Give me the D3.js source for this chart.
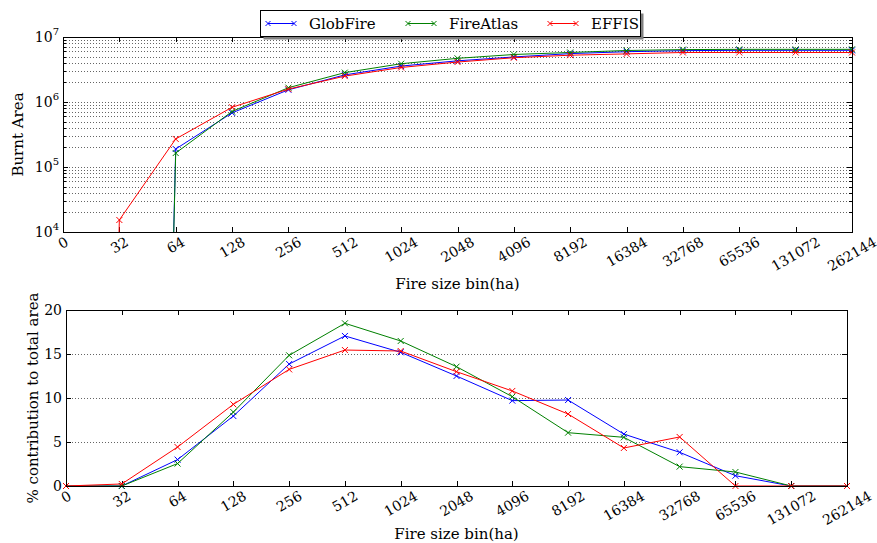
<!DOCTYPE html>
<html>
<head>
<meta charset="utf-8">
<script src="https://cdn.jsdelivr.net/npm/d3@7"></script>
<style>
  body { margin: 0; background: #fff; }
  svg { display: block; font-family: "DejaVu Serif", serif; }
</style>
</head>
<body>
<div class="container"></div>
<script>
// fire size bins (ha)
const bins = ['0', '32', '64', '128', '256', '512', '1024', '2048', '4096', '8192', '16384', '32768', '65536', '131072', '262144'];

// cumulative burnt area (top panel)
const globFireArea = [0, 0, 1.89e5, 6.8e5, 1.54e6, 2.61e6, 3.57e6, 4.3e6, 4.93e6, 5.55e6, 5.94e6, 6.17e6, 6.24e6, 6.24e6, 6.24e6];
const fireAtlasArea = [0, 0, 1.64e5, 7.15e5, 1.66e6, 2.83e6, 3.88e6, 4.7e6, 5.38e6, 5.78e6, 6.2e6, 6.4e6, 6.46e6, 6.46e6, 6.46e6];
const effisArea = [0, 1.53e4, 2.7e5, 8.3e5, 1.58e6, 2.5e6, 3.4e6, 4.12e6, 4.8e6, 5.25e6, 5.5e6, 5.78e6, 5.78e6, 5.78e6, 5.78e6];

// % contribution to total area (bottom panel)
const globFirePct = [0, 0, 3.0, 7.95, 13.86, 17.05, 15.19, 12.5, 9.7, 9.77, 5.9, 3.83, 1.17, 0, 0];
const fireAtlasPct = [0, 0, 2.55, 8.4, 14.85, 18.49, 16.48, 13.56, 10.15, 6.06, 5.53, 2.2, 1.59, 0, 0];
const effisPct = [0, 0.23, 4.43, 9.28, 13.25, 15.45, 15.34, 12.99, 10.8, 8.18, 4.32, 5.57, 0, 0, 0];

const seriesNames = ['GlobFire', 'FireAtlas', 'EFFIS'];
const seriesColors = ['#0000ff', '#008000', '#ff0000'];

const areaTicks = [1e4, 1e5, 1e6, 1e7];
const pctTicks = [0, 5, 10, 15, 20];

const W = 877, H = 543;
const fontSize = 14;
const titleSize = 15;

const svg = d3.select('.container')
              .append('svg')
              .attr('width', W)
              .attr('height', H);

// panel boxes
const topBox = {left: 63, right: 852, top: 37, bottom: 232};
const botBox = {left: 66, right: 847, top: 310, bottom: 486};

const xTop = d3.scalePoint().domain(bins).range([topBox.left, topBox.right]);
const xBot = d3.scalePoint().domain(bins).range([botBox.left, botBox.right]);
const yTop = d3.scaleLog().domain([1e4, 1e7]).range([topBox.bottom, topBox.top]);
const yBot = d3.scaleLinear().domain([0, 20]).range([botBox.bottom, botBox.top]);

const defs = svg.append('defs');
[['clipTop', topBox], ['clipBot', botBox]].forEach(([id, b]) => {
  defs.append('clipPath').attr('id', id)
      .append('rect')
      .attr('x', b.left).attr('y', b.top)
      .attr('width', b.right - b.left).attr('height', b.bottom - b.top);
});

// minor values for the log panel (2..9 x 10^k)
const minorVals = [];
for (let e = 4; e < 7; e++) {
  for (let m = 2; m <= 9; m++) minorVals.push(m * Math.pow(10, e));
}

function hGrid(vals, y, b) {
  svg.append('g').selectAll('line')
     .data(vals).enter().append('line')
     .attr('x1', b.left).attr('x2', b.right)
     .attr('y1', d => Math.round(y(d)) + 0.5).attr('y2', d => Math.round(y(d)) + 0.5)
     .attr('stroke', '#222')
     .attr('stroke-width', 0.7)
     .attr('stroke-dasharray', '1,2');
}
hGrid(areaTicks.concat(minorVals), yTop, topBox);
hGrid(pctTicks, yBot, botBox);

// tick marks (inward, all four sides)
function ticks(b, x, y, yMajor, yMinor) {
  const g = svg.append('g').attr('stroke', '#000').attr('stroke-width', 1);
  bins.forEach(c => {
    const px = Math.round(x(c)) + 0.5;
    g.append('line').attr('x1', px).attr('x2', px).attr('y1', b.bottom).attr('y2', b.bottom - 5);
    g.append('line').attr('x1', px).attr('x2', px).attr('y1', b.top).attr('y2', b.top + 5);
  });
  yMajor.forEach(v => {
    const py = Math.round(y(v)) + 0.5;
    g.append('line').attr('x1', b.left).attr('x2', b.left + 5).attr('y1', py).attr('y2', py);
    g.append('line').attr('x1', b.right).attr('x2', b.right - 5).attr('y1', py).attr('y2', py);
  });
  yMinor.forEach(v => {
    const py = Math.round(y(v)) + 0.5;
    g.append('line').attr('x1', b.left).attr('x2', b.left + 3).attr('y1', py).attr('y2', py);
    g.append('line').attr('x1', b.right).attr('x2', b.right - 3).attr('y1', py).attr('y2', py);
  });
}
ticks(topBox, xTop, yTop, areaTicks, minorVals);
ticks(botBox, xBot, yBot, pctTicks, []);

// series
const tiny = 1e-30;
function drawSeries(dataList, x, y, clipId, isLog) {
  dataList.forEach((vals, si) => {
    const pts = vals.map((v, i) => [x(bins[i]), y(isLog && v <= 0 ? tiny : v), v]);
    const line = d3.line().x(d => d[0]).y(d => d[1]);
    svg.append('path')
       .attr('d', line(pts))
       .attr('fill', 'none')
       .attr('stroke', seriesColors[si])
       .attr('stroke-width', 1)
       .attr('clip-path', `url(#${clipId})`);
    const mk = svg.append('g').attr('stroke', seriesColors[si]).attr('stroke-width', 1);
    pts.filter(p => !isLog || p[2] > 0).forEach(p => {
      mk.append('path')
        .attr('d', `M${p[0] - 3},${p[1] - 3}L${p[0] + 3},${p[1] + 3}M${p[0] - 3},${p[1] + 3}L${p[0] + 3},${p[1] - 3}`);
    });
  });
}
drawSeries([globFireArea, fireAtlasArea, effisArea], xTop, yTop, 'clipTop', true);
drawSeries([globFirePct, fireAtlasPct, effisPct], xBot, yBot, 'clipBot', false);

// frames
[topBox, botBox].forEach(b => {
  svg.append('rect')
     .attr('x', b.left + 0.5).attr('y', b.top + 0.5)
     .attr('width', b.right - b.left).attr('height', b.bottom - b.top)
     .attr('fill', 'none').attr('stroke', '#000').attr('stroke-width', 1);
});

// rotated x tick labels
function xLabels(x, b) {
  const g = svg.append('g').attr('font-size', fontSize);
  bins.forEach(c => {
    const t = g.append('text')
               .attr('text-anchor', 'middle')
               .attr('dominant-baseline', 'central')
               .text(c);
    const w = t.node().getComputedTextLength();
    const h = fontSize * 0.75;
    const bh = w * 0.5 + h * 0.866;
    t.attr('transform', `translate(${x(c)},${b.bottom + 4 + bh / 2}) rotate(-30)`);
  });
}
xLabels(xTop, topBox);
xLabels(xBot, botBox);

// y tick labels
const gy1 = svg.append('g').attr('font-size', fontSize).attr('text-anchor', 'end');
areaTicks.forEach(v => {
  const t = gy1.append('text')
               .attr('x', topBox.left - 4)
               .attr('y', yTop(v) + 5);
  t.append('tspan').text('10');
  t.append('tspan').attr('font-size', 10).attr('dy', -7).text(Math.log10(v));
});
const gy2 = svg.append('g').attr('font-size', fontSize).attr('text-anchor', 'end');
pctTicks.forEach(v => {
  gy2.append('text')
     .attr('x', botBox.left - 4)
     .attr('y', yBot(v) + 5)
     .text(v);
});

// axis titles
svg.append('text')
   .attr('x', (topBox.left + topBox.right) / 2).attr('y', 289)
   .attr('text-anchor', 'middle').attr('font-size', titleSize)
   .text('Fire size bin(ha)');
svg.append('text')
   .attr('x', (botBox.left + botBox.right) / 2).attr('y', 539)
   .attr('text-anchor', 'middle').attr('font-size', titleSize)
   .text('Fire size bin(ha)');
svg.append('text')
   .attr('transform', `translate(23,${(topBox.top + topBox.bottom) / 2}) rotate(-90)`)
   .attr('text-anchor', 'middle').attr('font-size', titleSize)
   .text('Burnt Area');
svg.append('text')
   .attr('transform', `translate(38,${(botBox.top + botBox.bottom) / 2}) rotate(-90)`)
   .attr('text-anchor', 'middle').attr('font-size', titleSize)
   .text('% contribution to total area');

// legend
const lg = svg.append('g');
lg.append('rect')
  .attr('x', 263.5).attr('y', 13.5).attr('width', 380).attr('height', 26)
  .attr('fill', '#808080');
lg.append('rect')
  .attr('x', 260.5).attr('y', 10.5).attr('width', 380).attr('height', 26)
  .attr('fill', '#fff').attr('stroke', '#000').attr('stroke-width', 1);
const legendX = [268, 408, 550];
seriesNames.forEach((name, i) => {
  const lx = legendX[i], ly = 23.5;
  lg.append('line')
    .attr('x1', lx).attr('x2', lx + 26).attr('y1', ly).attr('y2', ly)
    .attr('stroke', seriesColors[i]).attr('stroke-width', 1);
  [lx, lx + 26].forEach(px => {
    lg.append('path')
      .attr('d', `M${px - 2.5},${ly - 2.5}L${px + 2.5},${ly + 2.5}M${px - 2.5},${ly + 2.5}L${px + 2.5},${ly - 2.5}`)
      .attr('stroke', seriesColors[i]).attr('stroke-width', 1);
  });
  lg.append('text')
    .attr('x', lx + 41).attr('y', ly + 5)
    .attr('font-size', 15)
    .text(name);
});
</script>
</body>
</html>
